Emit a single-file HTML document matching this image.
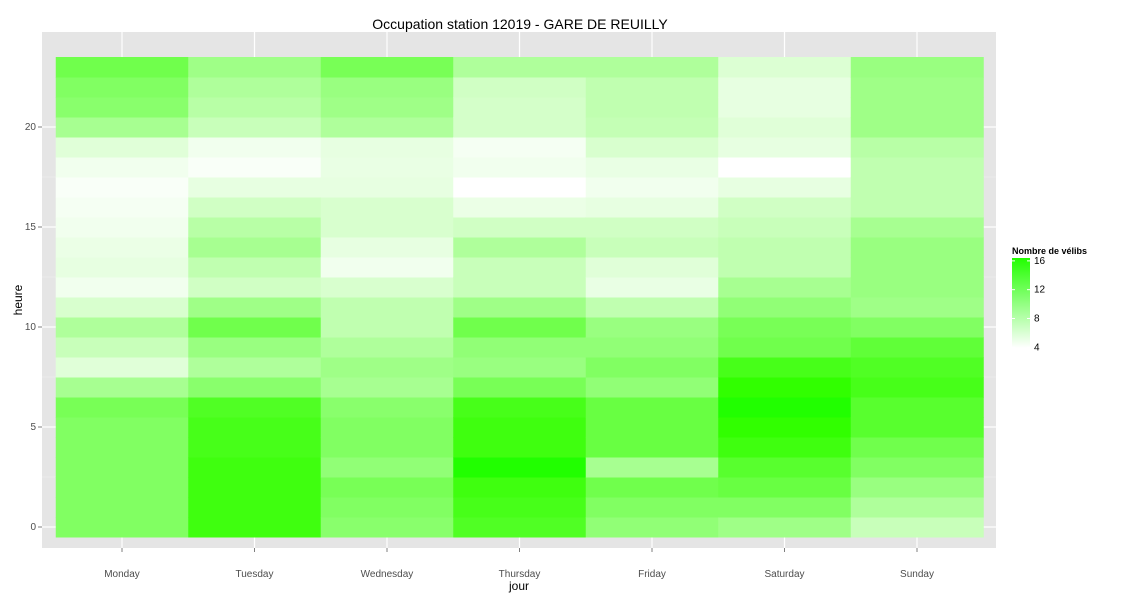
<!DOCTYPE html>
<html><head><meta charset="utf-8"><style>
body{margin:0;background:#fff;font-family:"Liberation Sans",sans-serif}
svg text{font-family:"Liberation Sans",sans-serif}
</style></head><body>
<svg id="chart" width="1125" height="600">
<rect x="42" y="32" width="954" height="516" fill="#E5E5E5"/>
<g id="grid"></g><g id="cells"></g><g id="axes"></g>
<text x="520" y="29" font-size="14" text-anchor="middle">Occupation station 12019 - GARE DE REUILLY</text>
<text x="519" y="590" font-size="12" text-anchor="middle">jour</text>
<text x="22" y="300" font-size="12" text-anchor="middle" transform="rotate(-90 22 300)">heure</text>
<g>
<text x="1012" y="254" font-size="9" font-weight="bold">Nombre de vélibs</text>
<defs><linearGradient id="lg" x1="0" y1="1" x2="0" y2="0"><stop offset="0" stop-color="#fff"/><stop offset="1" stop-color="#22ff00"/></linearGradient></defs>
<rect x="1012" y="258" width="18" height="90" fill="url(#lg)"/>
<g id="legticks"></g>
</g>
</svg>
<script>
const days=["Monday","Tuesday","Wednesday","Thursday","Friday","Saturday","Sunday"];
const hours=[0,1,2,3,4,5,6,7,8,9,10,11,12,13,14,15,16,17,18,19,20,21,22,23];
const yTicks=[0,5,10,15,20];
const legendTicks=[4,8,12,16];
// values per day listed from hour 0 to 23
const monday=[10.1,10.1,10.1,10.1,10.1,10.1,10.5,8.2,5.4,6.6,7.8,5.8,4.6,5.1,4.9,4.6,4.4,4.2,4.6,5.4,8.2,9.7,10.1,10.9];
const tuesday=[13.3,13.3,13.3,13.3,12.9,12.9,12.5,9.7,7.8,8.9,10.9,8.6,6.2,7.0,8.2,7.4,6.2,5.1,4.2,4.6,6.6,7.4,7.8,8.6];
const wednesday=[9.7,10.1,10.5,9.3,10.1,10.1,9.7,8.2,8.6,7.8,7.0,7.0,5.8,4.6,5.1,5.8,5.8,5.1,5.0,5.1,7.8,8.6,8.9,10.5];
const thursday=[12.5,12.9,13.3,14.8,13.3,13.3,12.9,10.5,8.9,9.3,10.9,8.6,6.6,6.6,7.8,6.2,4.9,3.9,4.6,4.4,6.0,6.0,6.2,7.8];
const friday=[9.3,10.1,10.9,8.2,11.3,11.3,11.3,9.3,10.1,9.3,8.9,7.0,5.0,5.4,6.6,6.2,5.1,4.6,5.0,5.8,6.8,7.0,7.0,7.8];
const saturday=[8.6,10.1,11.3,12.1,13.3,14.0,14.8,14.0,12.9,10.9,10.5,9.3,8.2,7.0,7.0,6.6,6.2,5.1,3.9,5.1,5.4,5.1,5.1,5.6];
const sunday=[6.6,7.8,8.9,10.1,10.9,12.1,12.1,12.9,12.5,11.7,10.1,8.6,8.9,8.9,8.9,8.2,7.0,7.0,7.0,7.4,8.6,8.6,8.6,8.9];
const series=[monday,tuesday,wednesday,thursday,friday,saturday,sunday];
const vMin=3.9,vMax=16.4;
const NS="http://www.w3.org/2000/svg";
const xC=i=>122+132.5*i, colW=132.5;
const yC=h=>527-20*h, rowH=20;
function color(v){const t=Math.max(0,Math.min(1,(v-vMin)/(vMax-vMin)));const r=Math.round(255*(1-t));const b=Math.max(0,Math.round(r-(255-r)*0.25));return `rgb(${r},255,${b})`;}
function mk(tag,attrs,parent){const e=document.createElementNS(NS,tag);for(const k in attrs)e.setAttribute(k,attrs[k]);parent.appendChild(e);return e;}
const grid=document.getElementById('grid'),cells=document.getElementById('cells'),axes=document.getElementById('axes');
for(let k=0;k<yTicks.length;k++){
 const y=yC(yTicks[k]);
 const l=mk('line',{x1:42,x2:996,y1:y,y2:y,stroke:'#fff','stroke-width':1.2},grid);
 
 
 if(k<yTicks.length-1){const y2=yC(yTicks[k]+2.5);const m=mk('line',{x1:42,x2:996,y1:y2,y2:y2,stroke:'#F2F2F2','stroke-width':0.6},grid);
 
 }
 const t=mk('text',{x:36,y:y+3,'font-size':10,fill:'#4D4D4D','text-anchor':'end'},axes);t.textContent=yTicks[k];
 
 
 mk('line',{x1:38,x2:42,y1:y,y2:y,stroke:'#7F7F7F'},axes);
}
days.forEach((d,i)=>{
 const x=xC(i);
 const l=mk('line',{x1:x,x2:x,y1:32,y2:548,stroke:'#fff','stroke-width':1.2},grid);
 
 
 const t=mk('text',{x:x,y:577,'font-size':10,fill:'#4D4D4D','text-anchor':'middle'},axes);t.textContent=d;
 
 
 mk('line',{x1:x,x2:x,y1:548,y2:552,stroke:'#7F7F7F'},axes);
 series[i].forEach((v,h)=>{
  const r=mk('rect',{x:x-colW/2,y:yC(hours[h])-rowH/2,width:colW+0.5,height:rowH+0.5,fill:color(v)},cells);
  
  
 });
});
const lt=document.getElementById('legticks');
legendTicks.forEach(v=>{
 const y=348-(v-vMin)/(vMax-vMin)*90;
 mk('line',{x1:1012,x2:1015,y1:y,y2:y,stroke:'#fff'},lt);
 mk('line',{x1:1027,x2:1030,y1:y,y2:y,stroke:'#fff'},lt);
 const t=mk('text',{x:1034,y:y+3,'font-size':10},lt);t.textContent=v;
 
 
});
</script>
</body></html>
